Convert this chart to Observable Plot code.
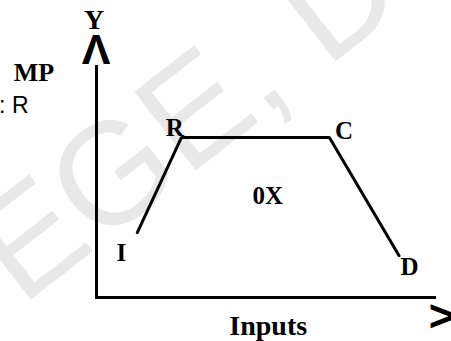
<!DOCTYPE html>
<html>
<head>
<meta charset="utf-8">
<script src="https://cdn.jsdelivr.net/npm/d3@7"></script>
<script src="https://cdn.jsdelivr.net/npm/@observablehq/plot@0.6"></script>
<style>
  html, body { margin: 0; padding: 0; background: #fff; }
  #chart svg { display: block; }
</style>
</head>
<body>
<div id="chart"></div>
<script>
// Curve points (inputs vs output), in chart units
const pointNames = ["I", "R", "C", "D"];
const pointX = [12, 25, 68.5, 89];
const pointY = [28, 69, 69, 18];

// Point labels and their positions
const labelText = ["R", "C", "I", "D", "0X"];
const labelX = [23, 72.8, 7.3, 92.1, 50.4];
const labelY = [73, 71.7, 19, 13, 43.6];

// Axis titles
const yTitle = "Y";
const xTitle = "Inputs";
const sideTitle = "MP";
const sideNote = ": R";
const watermark = "EGE, D";

const curve = pointNames.map((n, i) => ({name: n, x: pointX[i], y: pointY[i]}));
const labels = labelText.map((t, i) => ({text: t, x: labelX[i], y: labelY[i]}));

const serifBold = {fontFamily: "Liberation Serif", fontWeight: "bold", fill: "#000"};

const chart = Plot.plot({
  width: 451,
  height: 341,
  marginLeft: 96,
  marginRight: 15,
  marginTop: 65,
  marginBottom: 44,
  x: {domain: [0, 100], axis: null},
  y: {domain: [0, 100], axis: null},
  style: {background: "#fff", overflow: "visible"},
  marks: [
    // faint watermark
    Plot.text([{t: watermark, x: 26.5, y: 77}], {
      x: "x", y: "y", text: "t", rotate: -38, fontSize: 145,
      fontFamily: "Liberation Sans", fill: "#e8e8e8", clip: false
    }),
    // axes
    Plot.ruleX([0], {y1: -0.5, y2: 100, stroke: "#000", strokeWidth: 3}),
    Plot.ruleY([0], {x1: -0.3, x2: 100, stroke: "#000", strokeWidth: 3}),
    // curve I-R-C-D
    Plot.line(curve, {x: "x", y: "y", stroke: "#000", strokeWidth: 3, strokeLinejoin: "miter"}),
    // point labels
    Plot.text(labels, {x: "x", y: "y", text: "text", fontSize: 25, ...serifBold}),
    // axis arrows
    Plot.text([{t: "Λ", x: -0.15, y: 106.5}], {x: "x", y: "y", text: "t", fontSize: 43,
      fontFamily: "Liberation Sans", fontWeight: "bold", fill: "#000", clip: false}),
    Plot.text([{t: ">", x: 101.5, y: -8.5}], {x: "x", y: "y", text: "t", fontSize: 44,
      fontFamily: "Liberation Sans", fontWeight: "bold", fill: "#000", clip: false}),
    // titles
    Plot.text([{t: yTitle, x: -0.7, y: 119.5}], {x: "x", y: "y", text: "t", fontSize: 28, ...serifBold, clip: false}),
    Plot.text([{t: xTitle, x: 50.5, y: -12.5}], {x: "x", y: "y", text: "t", fontSize: 28, ...serifBold, clip: false}),
    Plot.text([{t: sideTitle, x: -18.4, y: 97.0}], {x: "x", y: "y", text: "t", fontSize: 26, ...serifBold, clip: false}),
    Plot.text([{t: sideNote, x: -20.0, y: 82.8}], {x: "x", y: "y", text: "t", fontSize: 23,
      textAnchor: "end", fontFamily: "Liberation Sans", fill: "#000", clip: false})
  ]
});
document.getElementById("chart").appendChild(chart);
</script>
</body>
</html>
